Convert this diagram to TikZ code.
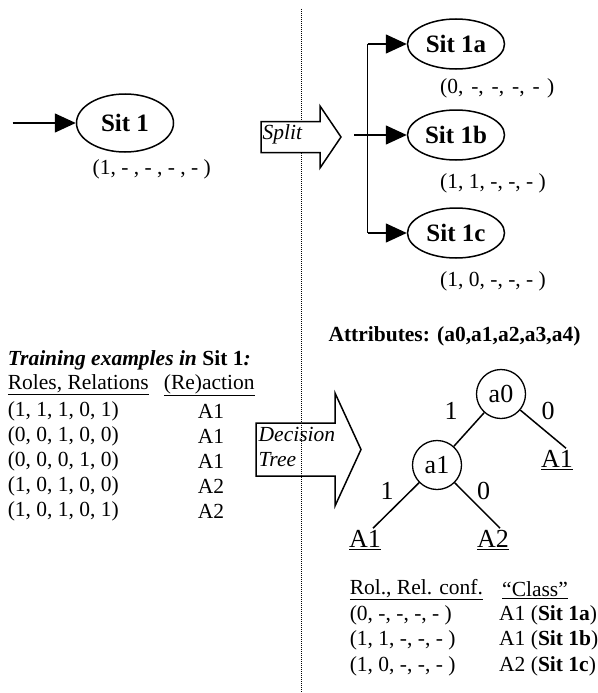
\documentclass[tikz,border=0pt]{standalone}
\usepackage{fontspec}
\setmainfont{Liberation Serif}
\usetikzlibrary{shapes.geometric,arrows.meta}

\begin{document}
\begin{tikzpicture}[x=1pt,y=-1pt,
  font=\fontsize{21.5}{25}\selectfont,
  every node/.style={inner sep=0pt},
  sit/.style={draw,ellipse,line width=1.5pt,minimum width=97pt,minimum height=50pt,font=\fontsize{25}{29}\selectfont\bfseries},
  attr/.style={draw,circle,line width=1.3pt,minimum size=49pt,font=\fontsize{26}{30}\selectfont},
  leaf/.style={font=\fontsize{26}{30}\selectfont,inner sep=2pt},
  edgelbl/.style={font=\fontsize{26}{30}\selectfont},
  tip/.style={-{Triangle[length=21pt,width=19pt]},line width=1.5pt},
  bigarrow/.style={draw,line width=1.5pt,line join=miter}]
\useasboundingbox (0,0) rectangle (597,693);

% Draw divider
\coordinate (divtop) at (301,9);
\coordinate (divbot) at (301,693);
\draw [densely dotted,line width=1pt] (divtop) -- (divbot);

% Draw start situation
\node [sit,minimum height=58pt] (sit1) at (125,123) {Sit 1};
\coordinate (entry) at (12.6,123);
\draw [tip] (entry) -- (sit1.west);
\node [anchor=west] (conf1) at (92.5,169) {(1, - , - , - , - )};

% Draw split arrow
\draw [bigarrow,fill=white] (261,121.5) -- (320,121.5) -- (320,106) -- (341,137) -- (320,168) -- (320,152.5) -- (261,152.5) -- cycle;
\node [anchor=west] (split) at (262.5,134) {\itshape Split};

% Draw new situations
\node [sit] (sit1a) at (456,44) {Sit 1a};
\node [sit] (sit1b) at (456,135) {Sit 1b};
\node [sit] (sit1c) at (456,233) {Sit 1c};
\node [anchor=west] (conf1a) at (440,88) {\makebox[114pt][s]{(0, -, -, -, - )}};
\node [anchor=west] (conf1b) at (440,183) {(1, 1, -, -, - )};
\node [anchor=west] (conf1c) at (440,281) {(1, 0, -, -, - )};

% Draw fork
\coordinate (feed) at (354,135);
\coordinate (bar) at (367.5,0);
\draw [line width=1.5pt] (bar |- sit1a.west) -- (bar |- sit1c.west);
\draw [tip] (bar |- sit1a.west) -- (sit1a.west);
\draw [tip] (feed) -- (sit1b.west);
\draw [tip] (bar |- sit1c.west) -- (sit1c.west);

% Training examples
\node [anchor=west] (train) at (7.6,360) {\textbf{\textit{Training examples in}} \textbf{Sit 1}\textbf{\textit{:}}};
\node [anchor=west] (hdrrr) at (7.6,385) {\underline{Roles, Relations}};
\node [anchor=west] (hdract) at (163.7,385) {\underline{(Re)action}};
\node [anchor=west] (ex1) at (7.6,411) {(1, 1, 1, 0, 1)};
\node [anchor=west] (ex2) at (7.6,436) {(0, 0, 1, 0, 0)};
\node [anchor=west] (ex3) at (7.6,461) {(0, 0, 0, 1, 0)};
\node [anchor=west] (ex4) at (7.6,486) {(1, 0, 1, 0, 0)};
\node [anchor=west] (ex5) at (7.6,511) {(1, 0, 1, 0, 1)};
\node (act1) at (211,411) {A1};
\node (act2) at (211,436) {A1};
\node (act3) at (211,461) {A1};
\node (act4) at (211,486) {A2};
\node (act5) at (211,511) {A2};

% Draw decision tree arrow
\draw [bigarrow] (256,423) -- (335,423) -- (335,393) -- (361,449.5) -- (335,506) -- (335,476) -- (256,476) -- cycle;
\node [anchor=west] (dec) at (258.5,434) {\itshape Decision};
\node [anchor=west] (tree) at (258.5,460) {\itshape Tree};

% Draw tree
\node [anchor=west] (attrs) at (328.3,336) {\bfseries Attributes: (a0,a1,a2,a3,a4)};
\node [attr] (a0) at (501,394) {a0};
\node [attr] (a1) at (437,465) {a1};
\node [leaf] (r1) at (557,460) {\underline{A1}};
\node [leaf] (l1) at (365,540) {\underline{A1}};
\node [leaf] (l2) at (493,540) {\underline{A2}};
\draw [line width=1.5pt] (a0) -- (a1);
\draw [line width=1.5pt] (a0) -- ([xshift=9]r1.north);
\draw [line width=1.5pt] (a1) -- ([xshift=8]l1.north);
\draw [line width=1.5pt] (a1) -- ([xshift=7]l2.north);
\node [edgelbl] (e1) at (451,411) {1};
\node [edgelbl] (e2) at (548,411) {0};
\node [edgelbl] (e3) at (387,490.5) {1};
\node [edgelbl] (e4) at (483.6,490.5) {0};

% Resulting classes
\node [anchor=west] (hdrconf) at (349.6,590) {\underline{Rol., Rel. conf.}};
\node [anchor=west] (hdrcls) at (502,590) {\underline{``Class''}};
\node [anchor=west] (res1) at (349.6,615.6) {(0, -, -, -, - )};
\node [anchor=west] (res2) at (349.6,640.7) {(1, 1, -, -, - )};
\node [anchor=west] (res3) at (349.6,666) {(1, 0, -, -, - )};
\node [anchor=west] (cls1) at (499,615.6) {A1 (\textbf{Sit 1a})};
\node [anchor=west] (cls2) at (499,640.7) {A1 (\textbf{Sit 1b})};
\node [anchor=west] (cls3) at (499,666) {A2 (\textbf{Sit 1c})};
\end{tikzpicture}
\end{document}
